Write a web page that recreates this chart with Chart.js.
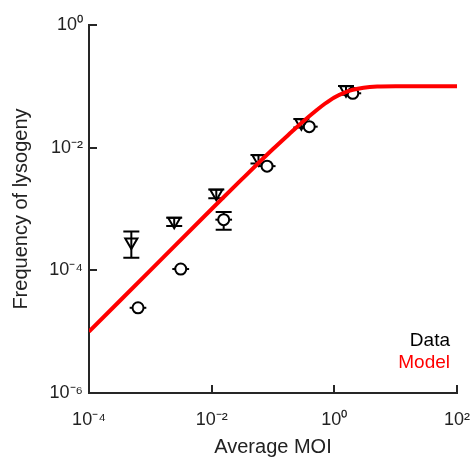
<!DOCTYPE html>
<html>
<head>
<meta charset="utf-8">
<script src="https://cdn.jsdelivr.net/npm/chart.js@4.4.1/dist/chart.umd.min.js"></script>
<style>
  html, body { margin: 0; padding: 0; background: #ffffff; }
  #wrap { width: 471px; height: 462px; }
</style>
</head>
<body>
<div id="wrap"><canvas id="c" width="471" height="462"></canvas></div>
<script>
// ---- data ----
const xTickValues = [1e-4, 1e-2, 1, 100];
const xTickLabels = ['10\u207B\u2074', '10\u207B\u00B2', '10\u2070', '10\u00B2'];
const yTickValues = [1e-6, 1e-4, 1e-2, 1];
const yTickLabels = ['10\u207B\u2076', '10\u207B\u2074', '10\u207B\u00B2', '10\u2070'];

// Data: triangles (with vertical error bars)
const triMOI   = [4.9e-4, 2.45e-3, 0.0119, 0.058, 0.29, 1.55];
const triFreq  = [2.9e-4, 6.3e-4, 1.8e-3, 6.6e-3, 0.0255, 0.088];
const triLow   = [1.6e-4, 5.3e-4, 1.5e-3, 5.5e-3, 0.0213, 0.073];
const triHigh  = [4.3e-4, 7.2e-4, 2.07e-3, 7.6e-3, 0.0293, 0.101];

// Data: circles (with error bars)
const circMOI     = [6.3e-4, 3.13e-3, 0.0157, 0.08, 0.39, 2.0];
const circFreq    = [2.45e-5, 1.05e-4, 6.7e-4, 5.0e-3, 0.022, 0.077];
const circLow     = [2.45e-5, 1.05e-4, 4.6e-4, 5.0e-3, 0.022, 0.077];
const circHigh    = [2.45e-5, 1.05e-4, 8.9e-4, 5.0e-3, 0.022, 0.077];
const circMOILow  = [4.6e-4, 2.28e-3, 0.0115, 0.058, 0.285, 1.46];
const circMOIHigh = [8.6e-4, 4.29e-3, 0.0215, 0.11, 0.535, 2.74];

// Model curve
const modelMOI  = [1e-4, 1e-3, 1e-2, 0.03, 0.1, 0.2, 0.3, 0.5, 0.7, 1, 1.5, 2, 3, 5, 10, 30, 100];
const modelFreq = [1e-5, 1e-4, 1e-3, 2.95e-3, 9.5e-3, 0.018, 0.026, 0.040, 0.052, 0.066, 0.080, 0.088, 0.095, 0.099, 0.1, 0.1, 0.1];

const legendItems = ['Data', 'Model'];
const legendColors = ['#000000', '#ff0000'];

// ---- build chart ----
const FONT = '"Liberation Sans", Arial, Helvetica, sans-serif';
const AXIS = '#262626';

const pts = (xs, ys) => xs.map((x, i) => ({ x: x, y: ys[i] }));

const errorBars = {
  id: 'errorBars',
  beforeDatasetsDraw(chart) {
    const ctx = chart.ctx, xs = chart.scales.x, ys = chart.scales.y;
    ctx.save();
    ctx.strokeStyle = '#000';
    ctx.lineWidth = 2;
    const cap = 8;
    const vbar = (mx, lo, hi) => {
      const px = xs.getPixelForValue(mx);
      const p1 = ys.getPixelForValue(lo), p2 = ys.getPixelForValue(hi);
      if (Math.abs(p1 - p2) < 0.5) return;
      ctx.beginPath();
      ctx.moveTo(px, p1); ctx.lineTo(px, p2);
      ctx.moveTo(px - cap, p1); ctx.lineTo(px + cap, p1);
      ctx.moveTo(px - cap, p2); ctx.lineTo(px + cap, p2);
      ctx.stroke();
    };
    triMOI.forEach((m, i) => vbar(m, triLow[i], triHigh[i]));
    circMOI.forEach((m, i) => vbar(m, circLow[i], circHigh[i]));
    circMOI.forEach((m, i) => {
      const py = ys.getPixelForValue(circFreq[i]);
      ctx.beginPath();
      ctx.moveTo(xs.getPixelForValue(circMOILow[i]), py);
      ctx.lineTo(xs.getPixelForValue(circMOIHigh[i]), py);
      ctx.stroke();
    });
    ctx.restore();
  }
};

const inwardTicks = {
  id: 'inwardTicks',
  afterDraw(chart) {
    const ctx = chart.ctx, xs = chart.scales.x, ys = chart.scales.y, a = chart.chartArea;
    ctx.save();
    ctx.strokeStyle = AXIS;
    ctx.lineWidth = 2;
    const len = 8;
    xTickValues.forEach(v => {
      const px = Math.round(xs.getPixelForValue(v));
      ctx.beginPath(); ctx.moveTo(px, a.bottom); ctx.lineTo(px, a.bottom - len); ctx.stroke();
    });
    yTickValues.forEach(v => {
      const py = Math.round(ys.getPixelForValue(v));
      ctx.beginPath(); ctx.moveTo(a.left, py); ctx.lineTo(a.left + len, py); ctx.stroke();
    });
    // legend text
    ctx.font = '19px ' + FONT;
    ctx.textAlign = 'right';
    ctx.textBaseline = 'middle';
    legendItems.forEach((t, i) => {
      ctx.fillStyle = legendColors[i];
      ctx.fillText(t, a.right - 7, a.bottom - 52 + i * 22);
    });
    ctx.restore();
  }
};

const tickLabel = (vals, labels) => (value) => {
  const i = vals.findIndex(v => Math.abs(Math.log10(v) - Math.log10(value)) < 1e-6);
  return i >= 0 ? labels[i] : '';
};

new Chart(document.getElementById('c'), {
  type: 'scatter',
  data: {
    datasets: [
      {
        label: 'Model',
        type: 'line',
        data: pts(modelMOI, modelFreq),
        borderColor: '#ff0000',
        borderWidth: 4,
        pointRadius: 0,
        fill: false,
        cubicInterpolationMode: 'monotone'
      },
      {
        label: 'Data (triangles)',
        data: pts(triMOI, triFreq),
        pointStyle: 'triangle',
        rotation: 180,
        radius: 7,
        borderWidth: 2,
        borderColor: '#000',
        backgroundColor: 'rgba(0,0,0,0)'
      },
      {
        label: 'Data (circles)',
        data: pts(circMOI, circFreq),
        pointStyle: 'circle',
        radius: 5.5,
        borderWidth: 2,
        borderColor: '#000',
        backgroundColor: '#fff'
      }
    ]
  },
  options: {
    responsive: false,
    animation: false,
    devicePixelRatio: 1,
    layout: { padding: { top: 25, right: 14, left: 0, bottom: 0 } },
    plugins: { legend: { display: false }, tooltip: { enabled: false } },
    scales: {
      x: {
        type: 'logarithmic',
        min: 1e-4, max: 100,
        afterBuildTicks: s => { s.ticks = xTickValues.map(v => ({ value: v })); },
        afterFit: s => { s.height = 69; s.paddingLeft = 0; s.paddingRight = 0; },
        grid: { display: false, drawTicks: false },
        border: { display: true, color: AXIS, width: 2 },
        ticks: {
          color: '#222', padding: 16, maxRotation: 0, autoSkip: false,
          font: { family: FONT, size: 18 },
          callback: tickLabel(xTickValues, xTickLabels)
        },
        title: {
          display: true, text: 'Average MOI', color: '#222',
          font: { family: FONT, size: 20 },
          padding: { top: 0, bottom: 3 }
        }
      },
      y: {
        type: 'logarithmic',
        min: 1e-6, max: 1,
        afterBuildTicks: s => { s.ticks = yTickValues.map(v => ({ value: v })); },
        afterFit: s => { s.width = 89; s.paddingTop = 0; s.paddingBottom = 0; },
        grid: { display: false, drawTicks: false },
        border: { display: true, color: AXIS, width: 2 },
        ticks: {
          color: '#222', padding: 6, autoSkip: false,
          font: { family: FONT, size: 18 },
          callback: tickLabel(yTickValues, yTickLabels)
        },
        title: {
          display: true, text: 'Frequency of lysogeny', color: '#222',
          font: { family: FONT, size: 20 },
          padding: { top: 9, bottom: 0 }
        }
      }
    }
  },
  plugins: [errorBars, inwardTicks]
});
</script>
</body>
</html>
